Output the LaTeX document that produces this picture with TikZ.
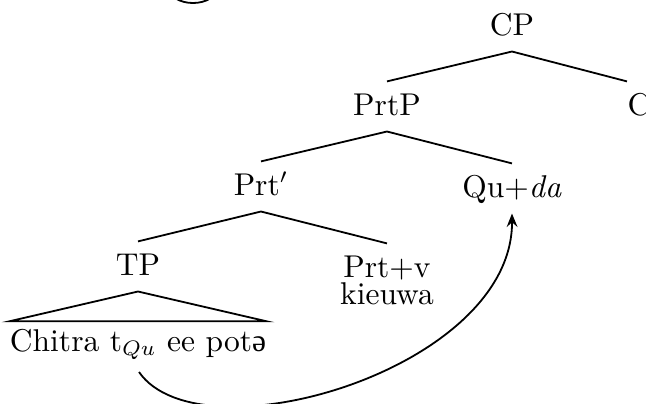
\documentclass[tikz,border=0pt]{standalone}
\usepackage{fontspec}
\usepackage{tikz}
\usetikzlibrary{arrows.meta}
\newfontfamily\ipafont{Liberation Serif}

\begin{document}
\begin{tikzpicture}[x=0.3333pt,y=-0.3333pt,>={Stealth[length=4.5pt,width=3.6pt,inset=1.6pt]},
  every node/.style={font=\fontsize{10.5}{12.5}\selectfont,text height=7pt,text depth=1.3pt,inner ysep=4pt,inner xsep=0pt},
  branch/.style={line width=0.6pt}]
\useasboundingbox (0,0) rectangle (646,403);
\clip (0,0) rectangle (646,403);
% left over from the tree above
\draw[branch] (193,-12) ellipse [x radius=24,y radius=15];
% tree
\node[anchor=base] (cp) at (512,35) {CP};
\node[anchor=base] (prtp) at (387,115) {PrtP};
\node[anchor=base west] (c) at (627,115) {C};
\node[anchor=base] (prtbar) at (261,195) {Prt$'$};
\node[anchor=base] (qu) at (512,197) {Qu+\textit{da}};
\node[anchor=base] (tp) at (138,275) {TP};
\node[anchor=base] (prtv) at (387,277) {Prt+v};
\node[anchor=base,inner ysep=0pt,text height=5pt,text depth=0pt] (verb) at (387,304) {kieuwa};
\node[anchor=base,inner ysep=2.7pt] (clause) at (138,351) {Chitra t$_{Qu}$ ee pot{\ipafont ə}};
\draw[branch] (prtp.north) -- (cp.south) -- (c.north west);
\draw[branch] (prtbar.north) -- (prtp.south) -- (qu.north);
\draw[branch] (tp.north) -- (prtbar.south) -- (prtv.north);
\draw[branch] (tp.south) -- (clause.north west) -- (clause.north east) -- cycle;
% movement
\coordinate (trace) at (139,372);
\draw[branch,->] (trace) .. controls (200,460) and (513,370) .. (qu.south);
\end{tikzpicture}
\end{document}
